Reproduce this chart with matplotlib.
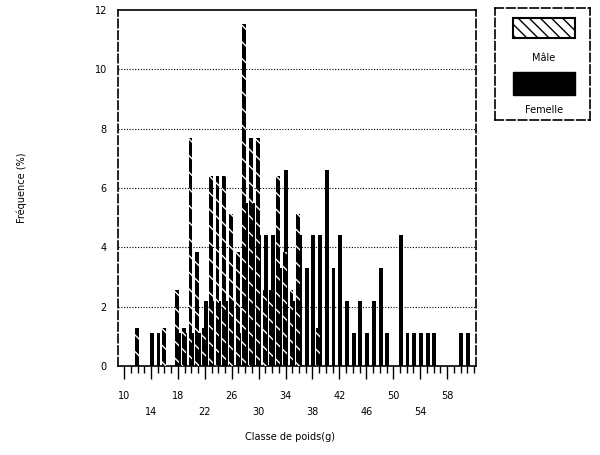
import matplotlib
matplotlib.use("Agg")
import matplotlib.pyplot as plt
from matplotlib.patches import Rectangle
import numpy as np

# weight classes (g) and frequencies (%)
male_classes = [12, 16, 18, 19, 20, 21, 22, 23, 24, 25, 26, 27, 28, 29, 30, 31, 32, 33, 34, 35, 36, 39]
male_freq = [1.28, 1.28, 2.56, 1.28, 7.69, 3.85, 1.28, 6.41, 6.41, 6.41, 5.13, 3.85, 11.54, 7.69, 7.69,
             2.56, 2.56, 6.41, 3.85, 2.56, 5.13, 1.28]

female_classes = [14, 15, 18, 19, 20, 21, 22, 23, 24, 25, 26, 27, 28, 29, 30, 31, 32, 33, 34, 35,
                  36, 37, 38, 39, 40, 41, 42, 43, 44, 45, 46, 47, 48, 49, 51, 52, 53, 54, 55, 56, 60, 61]
female_freq = [1.1, 1.1, 1.1, 1.1, 1.1, 1.1, 2.2, 2.2, 2.2, 2.2, 2.2, 1.1, 5.5, 5.5, 4.4, 4.4, 4.4, 3.3, 6.6, 2.2,
               4.4, 3.3, 4.4, 4.4, 6.6, 3.3, 4.4, 2.2, 1.1, 2.2, 1.1, 2.2, 3.3, 1.1, 4.4, 1.1, 1.1, 1.1, 1.1, 1.1, 1.1, 1.1]

major_ticks = list(range(10, 59, 4))
y_ticks = [0, 2, 4, 6, 8, 10, 12]

plt.rcParams['font.family'] = ['DejaVu Sans']
plt.rcParams['hatch.linewidth'] = 1.0

fig = plt.figure(figsize=(6, 4.55), dpi=100)
ax = fig.add_axes([118 / 600, 1 - 366 / 455, 358 / 600, 356 / 455])

ax.bar(np.array(female_classes) + 0.12, female_freq, width=0.58, color='black', lw=0, zorder=2)
ax.bar(np.array(male_classes) - 0.12, male_freq, width=0.58, facecolor='black', edgecolor='white',
       hatch='\\\\', lw=0, zorder=3)

ax.set_xlim(9.1, 62.3)
ax.set_ylim(0, 12)

for y in y_ticks[1:-1]:
    ax.axhline(y, color='black', lw=0.8, ls=(0, (1, 1.5)), zorder=1)

ax.set_yticks(y_ticks)
ax.tick_params(axis='y', length=0, pad=8, labelsize=7)

ax.set_xticks(major_ticks)
ax.set_xticklabels([str(v) if i % 2 == 0 else '\n' + str(v) for i, v in enumerate(major_ticks)],
                   linespacing=1.7)
ax.set_xticks(range(10, 63), minor=True)
ax.tick_params(axis='x', which='major', length=9, width=1, pad=9, labelsize=7, direction='out')
ax.tick_params(axis='x', which='minor', length=5, width=1, direction='out')

ax.spines['left'].set_linestyle((0, (5, 2)))
ax.spines['right'].set_linestyle((0, (5, 2)))
for s in ax.spines.values():
    s.set_linewidth(1.2)

fig.text(22 / 600, 1 - 188 / 455, 'Fréquence (%)', rotation=90, ha='center', va='center', fontsize=7)
fig.text(290 / 600, 1 - 437 / 455, 'Classe de poids(g)', ha='center', va='center', fontsize=7)

# legend box
lax = fig.add_axes([495 / 600, 1 - 120 / 455, 95 / 600, 112 / 455])
lax.set_xlim(0, 95)
lax.set_ylim(112, 0)
lax.set_xticks([])
lax.set_yticks([])
for s in lax.spines.values():
    s.set_linestyle((0, (5, 2)))
    s.set_linewidth(1.2)
lax.add_patch(Rectangle((18, 10), 62, 20, facecolor='white', edgecolor='black', hatch='\\\\\\', lw=1.5))
lax.add_patch(Rectangle((18, 64), 62, 23, facecolor='black', edgecolor='black', lw=1))
lax.text(49, 50, 'Mâle', ha='center', va='center', fontsize=7)
lax.text(49, 102, 'Femelle', ha='center', va='center', fontsize=7)

fig.savefig('out.png', dpi=100)
